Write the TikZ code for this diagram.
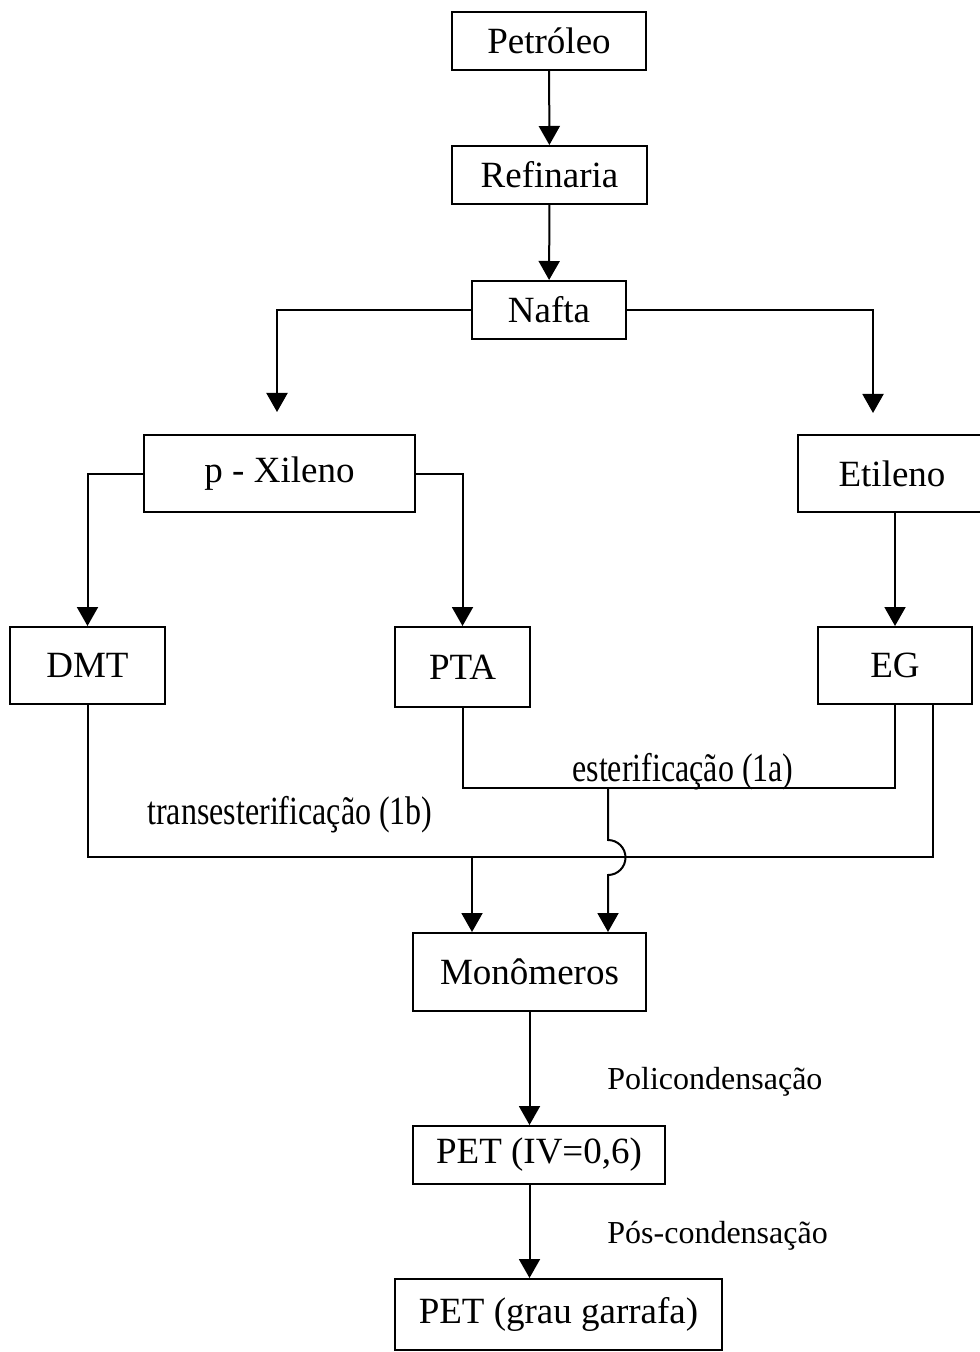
\documentclass[tikz,border=0pt]{standalone}
\usepackage{fontspec}
\usepackage{graphicx}
\setmainfont{Liberation Serif}
\usetikzlibrary{arrows.meta}

\tikzset{
  box/.style={draw=black,line width=1pt,fill=white,inner sep=0pt,font=\fontsize{18.5}{22}\selectfont},
  lbl/.style={anchor=west,inner sep=0pt,font=\fontsize{16}{19}\selectfont},
  arr/.style={line width=1pt,-{Triangle[length=9.5pt,width=10.5pt]}},
  ln/.style={line width=1pt}
}

\begin{document}
\begin{tikzpicture}[x=0.5pt,y=-0.5pt]
\useasboundingbox (0,0) rectangle (979,1352);
\node[box,minimum width=97pt,minimum height=29pt] (petroleo) at (549,41) {Petróleo};
\node[box,minimum width=97.5pt,minimum height=29pt] (refinaria) at (549.5,175) {Refinaria};
\node[box,minimum width=77pt,minimum height=29pt] (nafta) at (549,310) {Nafta};
\node[box,minimum width=135.5pt,minimum height=38.5pt] (pxileno) at (279.5,473.5) {p - Xileno};
\node[box,minimum width=94pt,minimum height=38.5pt] (etileno) at (892,473.5) {Etileno};
\node[box,minimum width=77.5pt,minimum height=38.5pt] (dmt) at (87.5,665.5) {DMT};
\node[box,minimum width=67.5pt,minimum height=40pt] (pta) at (462.5,667) {PTA};
\node[box,minimum width=77pt,minimum height=38.5pt] (eg) at (895,665.5) {EG};
\node[box,minimum width=116.5pt,minimum height=39pt] (monomeros) at (529.5,972) {Monômeros};
\node[box,minimum width=126pt,minimum height=29pt] (petiv) at (539,1155) {PET (IV=0,6)};
\node[box,minimum width=163.5pt,minimum height=35.5pt] (petgarrafa) at (558.5,1314.5) {PET (grau garrafa)};
% rotulos
\node[lbl] (trans) at (147,815) {\fontsize{20}{24}\selectfont\scalebox{0.8}[1]{transesterificação (1b)}};
\node[lbl] (ester) at (572,772) {\fontsize{20}{24}\selectfont\scalebox{0.8}[1]{esterificação (1a)}};
\node[lbl] (policond) at (607,1082) {Policondensação};
\node[lbl] (poscond) at (607,1236) {Pós-condensação};
% pontos livres
\coordinate (xin) at (277,412);
\coordinate (ein) at (873,413);
\coordinate (estj) at (895,788);
\coordinate (egout) at (933,704);
\coordinate (transj) at (933,857);
\coordinate (tj) at (472,857);
\coordinate (ej) at (608,788);
% setas
\draw[arr] (petroleo) -- (refinaria);
\draw[arr] (refinaria) -- (nafta);
\draw[arr] (nafta.west) -| (xin);
\draw[arr] (nafta.east) -| (ein);
\draw[arr] (pxileno.west) -| (dmt.north);
\draw[arr] (pxileno.east) -| (pta.north);
\draw[arr] (etileno.south -| eg.north) -- (eg.north);
\draw[ln] (pta.south) |- (estj) -- (eg.south);
\draw[ln] (dmt.south) |- (transj) -- (egout);
\draw[arr] (tj) -- (tj |- monomeros.north);
\draw[arr] (ej) -- ++(0,52) arc[start angle=90,end angle=-90,radius=8.75pt] -- (ej |- monomeros.north);
\draw[arr] (monomeros.south) -- (monomeros.south |- petiv.north);
\draw[arr] (petiv.south -| monomeros.south) -- (monomeros.south |- petgarrafa.north);
\end{tikzpicture}
\end{document}
